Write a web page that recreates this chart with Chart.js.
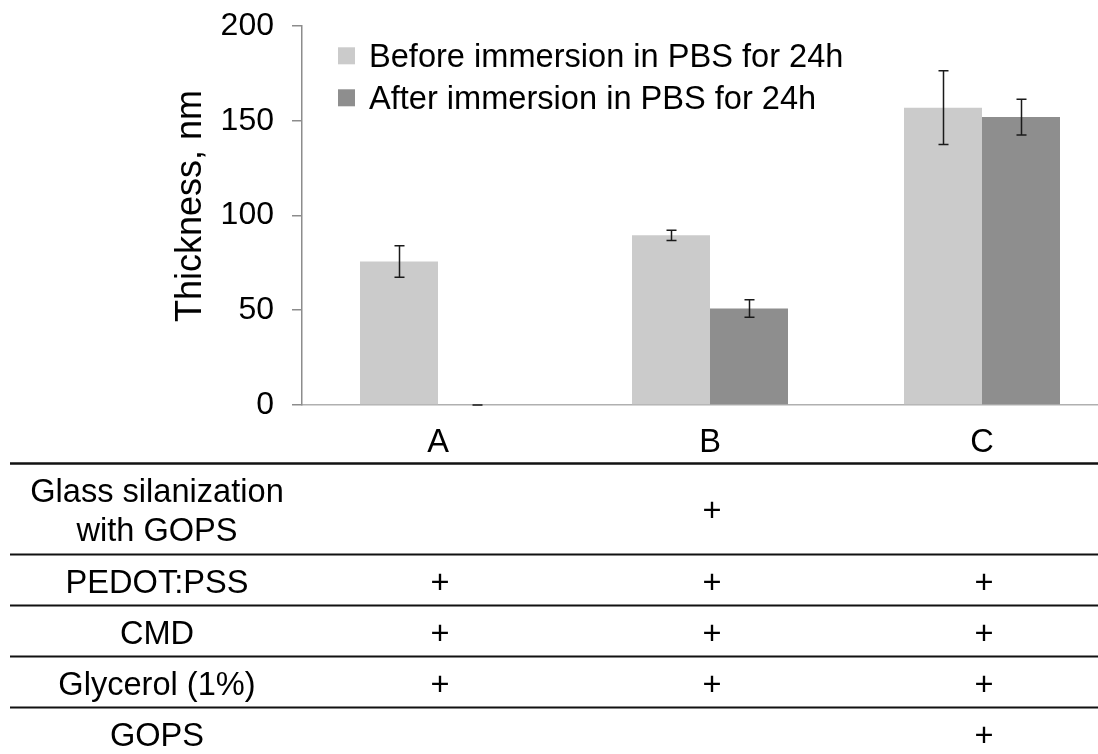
<!DOCTYPE html>
<html>
<head>
<meta charset="utf-8">
<script src="https://cdn.jsdelivr.net/npm/chart.js@4.4.1/dist/chart.umd.min.js"></script>
<style>
  html, body { margin: 0; padding: 0; background: #fff; overflow: hidden; }
  #wrap { position: relative; width: 1118px; height: 754px; }
</style>
</head>
<body>
<div id="wrap"><canvas id="c"></canvas></div>
<script>
// ---- data ----
const categories = ['A', 'B', 'C'];
const seriesLabels = ['Before immersion in PBS for 24h', 'After immersion in PBS for 24h'];
const beforeValues = [75.7, 89.5, 156.9];
const beforeErrors = [8.3, 2.7, 19.5];
const afterValues = [0, 50.9, 151.9];
const afterErrors = [0, 4.6, 9.4];
const yTicks = [0, 50, 100, 150, 200];
const yTitle = 'Thickness, nm';
const tableRowLabels = [['Glass silanization', 'with GOPS'], ['PEDOT:PSS'], ['CMD'], ['Glycerol (1%)'], ['GOPS']];
const tableMarks = [
  [false, true, false],
  [true, true, true],
  [true, true, true],
  [true, true, true],
  [false, false, true]
];

const FONT = '"Liberation Sans", Arial, Helvetica, sans-serif';

const errorBarPlugin = {
  id: 'errorBars',
  afterDatasetsDraw(chart) {
    const ctx = chart.ctx;
    const ys = chart.scales.y;
    ctx.save();
    ctx.strokeStyle = '#1a1a1a';
    ctx.lineWidth = 1.5;
    chart.data.datasets.forEach((ds, i) => {
      const meta = chart.getDatasetMeta(i);
      meta.data.forEach((el, j) => {
        const v = ds.data[j], e = ds.errors[j];
        const x = Math.round(el.x) + 0.5;
        const yt = ys.getPixelForValue(v + e);
        const yb = ys.getPixelForValue(v - e);
        ctx.beginPath();
        ctx.moveTo(x, yt); ctx.lineTo(x, yb);
        ctx.moveTo(x - 5, yt); ctx.lineTo(x + 5, yt);
        ctx.moveTo(x - 5, yb); ctx.lineTo(x + 5, yb);
        ctx.stroke();
      });
    });
    ctx.restore();
  }
};

const legendPlugin = {
  id: 'customLegend',
  afterDraw(chart) {
    const ctx = chart.ctx;
    ctx.save();
    ctx.font = '32.6px ' + FONT;
    ctx.textAlign = 'left';
    ctx.textBaseline = 'alphabetic';
    chart.data.datasets.forEach((ds, i) => {
      const base = 67.3 + i * 42;
      ctx.fillStyle = ds.backgroundColor;
      ctx.fillRect(338, base - 11.5 - 8.5, 17, 17);
      ctx.fillStyle = '#000';
      ctx.fillText(ds.label, 369, base);
    });
    ctx.restore();
  }
};

const yTitlePlugin = {
  id: 'yTitle',
  afterDraw(chart) {
    const ctx = chart.ctx;
    ctx.save();
    ctx.translate(191.5, 206);
    ctx.rotate(-Math.PI / 2);
    ctx.font = '36px ' + FONT;
    ctx.fillStyle = '#000';
    ctx.textAlign = 'center';
    ctx.textBaseline = 'middle';
    ctx.fillText(yTitle, 0, 0);
    ctx.restore();
  }
};

const tablePlugin = {
  id: 'conditionTable',
  afterDraw(chart) {
    const ctx = chart.ctx;
    const xs = chart.scales.x;
    const lineYs = [463.5, 554.5, 605.5, 656.5, 707.5];
    const lineWs = [2.6, 2, 2, 2, 2];
    const rowBaselines = [[501.7, 540.7], [593], [644], [695], [746]];
    const markBaselines = [521, 593, 644, 695, 746];
    ctx.save();
    ctx.strokeStyle = '#111';
    lineYs.forEach((y, k) => {
      ctx.lineWidth = lineWs[k];
      ctx.beginPath();
      ctx.moveTo(10, y); ctx.lineTo(chart.width, y);
      ctx.stroke();
    });
    ctx.fillStyle = '#000';
    ctx.font = '32.6px ' + FONT;
    ctx.textAlign = 'center';
    ctx.textBaseline = 'alphabetic';
    tableRowLabels.forEach((lines, r) => {
      lines.forEach((t, li) => ctx.fillText(t, 157, rowBaselines[r][li]));
      tableMarks[r].forEach((m, c) => {
        if (m) ctx.fillText('+', xs.getPixelForValue(c) + 2, markBaselines[r]);
      });
    });
    ctx.restore();
  }
};

new Chart(document.getElementById('c'), {
  type: 'bar',
  data: {
    labels: categories,
    datasets: [
      { label: seriesLabels[0], data: beforeValues, errors: beforeErrors, backgroundColor: '#cbcbcb', borderWidth: 0 },
      { label: seriesLabels[1], data: afterValues, errors: afterErrors, backgroundColor: '#8e8e8e', borderWidth: 0 }
    ]
  },
  options: {
    responsive: true,
    maintainAspectRatio: false,
    animation: false,
    devicePixelRatio: 1,
    layout: { padding: { top: 26, bottom: 280, left: 0, right: 0 } },
    datasets: { bar: { categoryPercentage: 0.5735, barPercentage: 1.0 } },
    plugins: { legend: { display: false }, tooltip: { enabled: false } },
    scales: {
      x: {
        grid: { display: false },
        border: { display: true, color: '#b0b0b0', width: 1.5 },
        ticks: { color: '#000', font: { size: 32.6, family: FONT }, padding: 11 }
      },
      y: {
        min: 0, max: 200,
        afterBuildTicks(scale) { scale.ticks = yTicks.map(v => ({ value: v })); },
        afterFit(scale) { scale.width = 302; scale.paddingTop = 10; scale.paddingBottom = 10; },
        grid: { drawOnChartArea: false, drawTicks: true, tickLength: 10, color: '#8c8c8c', lineWidth: 1.5 },
        border: { display: true, color: '#8c8c8c', width: 1.5 },
        ticks: { color: '#000', font: { size: 32, family: FONT }, padding: 18 },
        title: { display: false }
      }
    }
  },
  plugins: [errorBarPlugin, legendPlugin, yTitlePlugin, tablePlugin]
});
</script>
</body>
</html>
